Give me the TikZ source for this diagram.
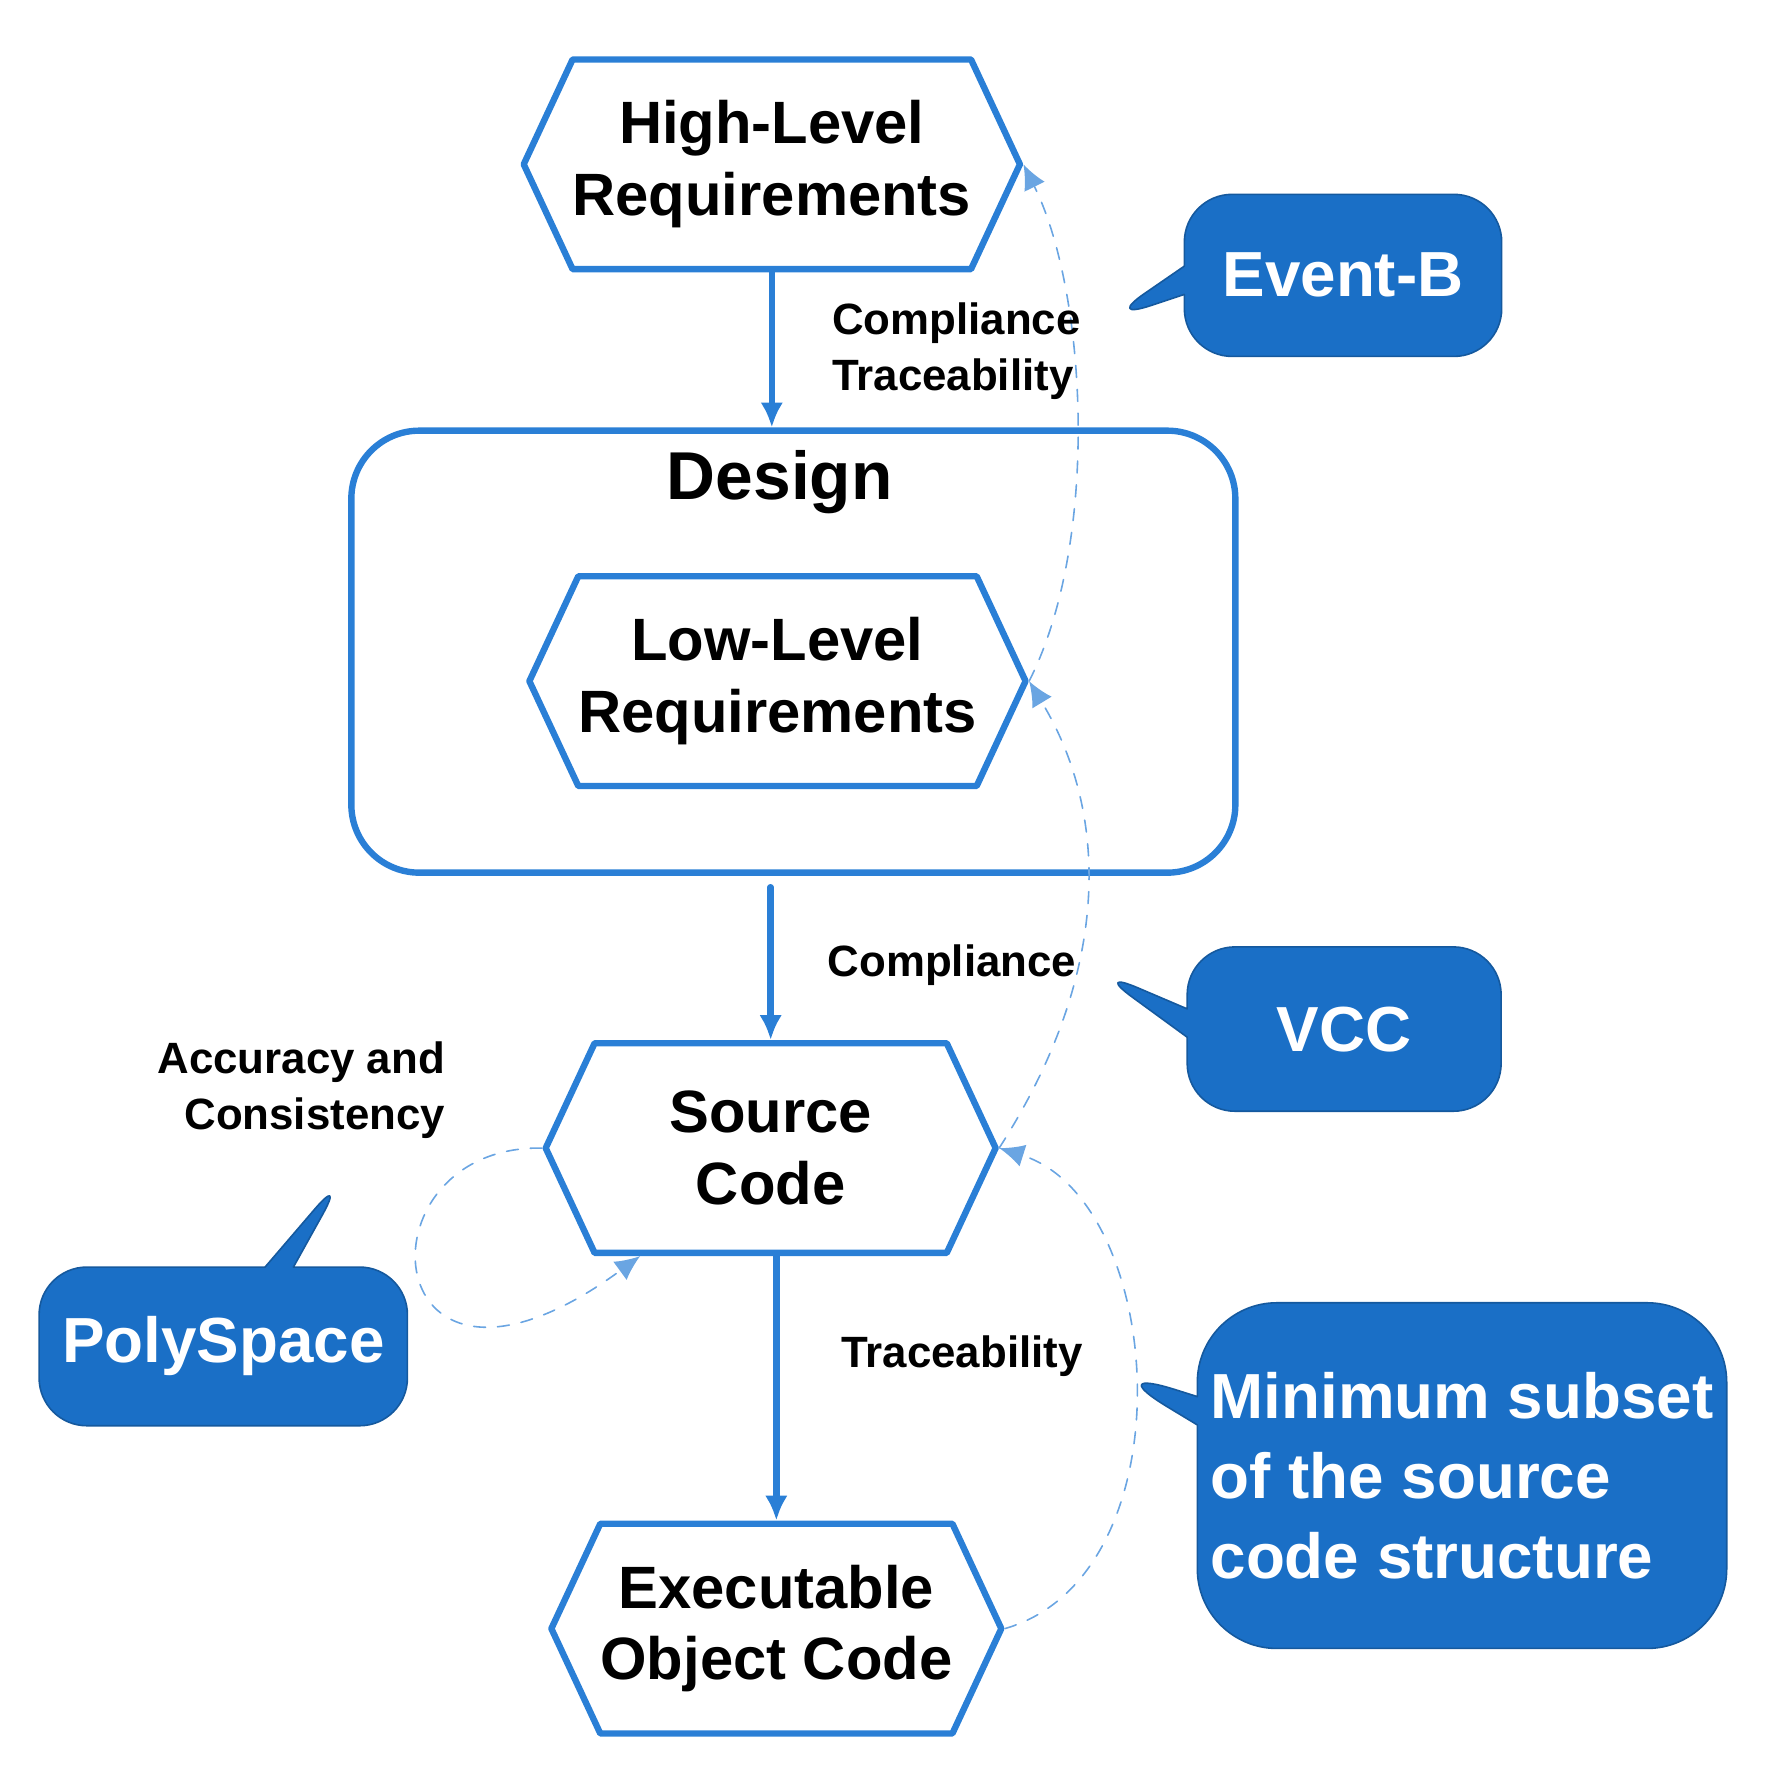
\documentclass[tikz,border=0pt]{standalone}
\usepackage{fontspec}
\setmainfont{Liberation Sans}
\usetikzlibrary{shapes.symbols,shapes.callouts,arrows.meta,positioning}
\definecolor{rblue}{HTML}{2A7FD6}
\definecolor{cblue}{HTML}{1A6FC6}
\tikzset{>={Latex[length=2.2mm,width=2mm]},
  every picture/.append style={line join=round, line cap=round},
  req/.style={draw=rblue, line width=1.6pt, signal, signal to=east and west,
    signal pointer angle=130, minimum width=3.97cm, minimum height=1.85cm,
    align=center, font=\bfseries\fontsize{15}{18}\selectfont, inner sep=0pt},
  flow/.style={->, draw=rblue, line width=1.6pt},
  trace/.style={->, draw=rblue!70, dashed, thin},
  lbl/.style={font=\bfseries\fontsize{11}{14}\selectfont, align=left},
  tool/.style={rectangle callout, fill=cblue, draw=cblue!80!black, thin,
    rounded corners=12pt, text=white, font=\bfseries\fontsize{16}{20}\selectfont}
}
\begin{document}
\begin{tikzpicture}
  \useasboundingbox (0,0) rectangle (15.6,-15.6);
  % requirement chain
  \node [req] (hlr) at (6.81,-1.45) {High-Level\\Requirements};
  \node [draw=rblue, line width=1.6pt, rounded corners=0.6cm, minimum width=7.8cm,
    minimum height=3.9cm] (design) at (7.0,-5.75) {};
  \node [font=\bfseries\fontsize{17}{20}\selectfont] (dtitle) at (6.88,-4.25) {Design};
  \node [req] (llr) at (6.86,-6.01) {Low-Level\\Requirements};
  \node [req] (src) at (6.8,-10.13) {Source\\Code};
  \node [req] (eoc) at (6.85,-14.37) {Executable\\Object Code};
  \draw [flow] (hlr.south) -- (hlr.south |- design.north);
  \draw [flow, shorten <=1mm] (src.north |- design.south) -- (src.north);
  \draw [flow] ([xshift=0.5mm]src.south) -- ([xshift=0.5mm]src.south |- eoc.north);
  % verification arrows
  \draw [trace] (llr.east) .. controls (9.7,-4.8) and (9.6,-2.6) .. (hlr.east);
  \draw [trace] (src.east) .. controls (9.8,-8.6) and (9.8,-7.2) .. (llr.east);
  \draw [trace] (eoc.east) .. controls (10.5,-13.9) and (10.3,-10.6) .. (src.east);
  \draw [trace] (src.west) .. controls (3.1,-10.1) and (3.3,-12.8) .. ([xshift=4.2mm]src.south west);
  % labels
  \node [lbl, anchor=west] (l1) at (7.22,-3.1) {Compliance\\Traceability};
  \node [lbl, anchor=west] (l2) at (7.18,-8.52) {Compliance};
  \node [lbl, anchor=west] (l3) at (7.3,-11.97) {Traceability};
  \node [lbl, align=right, anchor=east] (l4) at (4.05,-9.62) {Accuracy and\\Consistency};
  % tools
  \coordinate (pEB) at (9.75,-2.83);
  \coordinate (pVCC) at (9.65,-8.55);
  \coordinate (pMin) at (9.7,-12.05);
  \coordinate (pPS) at (3.05,-10.35);
  \node [tool, minimum width=2.8cm, minimum height=1.43cm, callout absolute pointer=(pEB)]
    (eventb) at (11.85,-2.43) {Event-B};
  \node [tool, minimum width=2.77cm, minimum height=1.45cm, callout absolute pointer=(pVCC)]
    (vcc) at (11.86,-9.08) {VCC};
  \node [tool, minimum width=4.6cm, minimum height=3.05cm, align=left, rounded corners=20pt,
    callout absolute pointer=(pMin)] (minsub) at (12.9,-13.02)
    {Minimum subset\\of the source\\code structure};
  \node [tool, minimum width=3.25cm, minimum height=1.4cm, callout absolute pointer=(pPS)]
    (polyspace) at (1.97,-11.88) {PolySpace};
\end{tikzpicture}
\end{document}
